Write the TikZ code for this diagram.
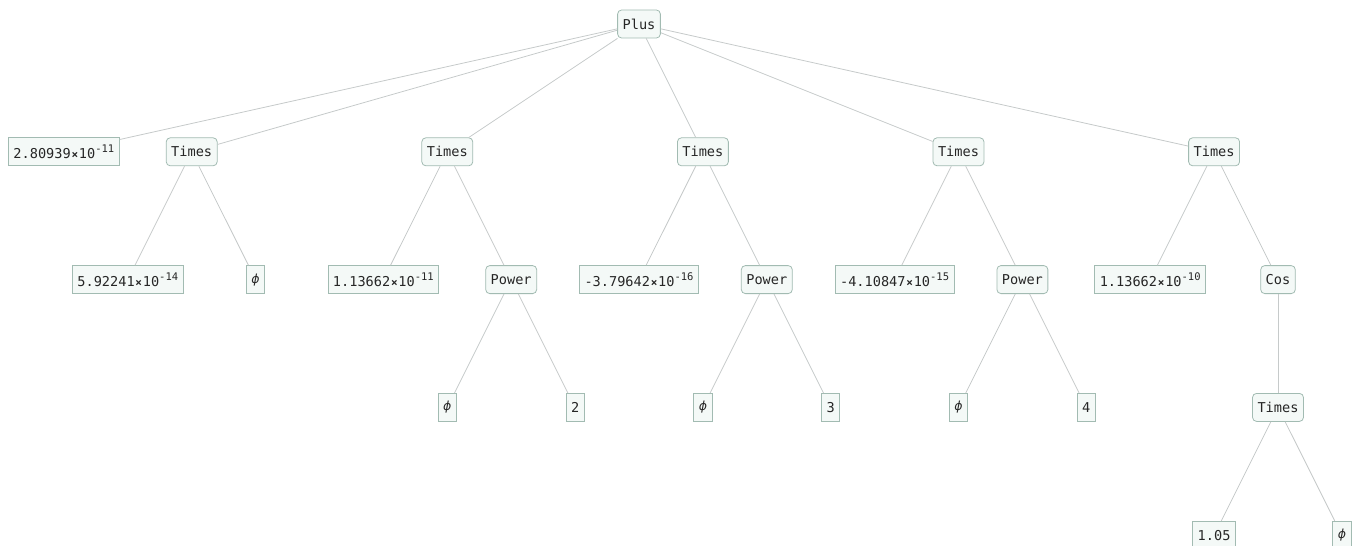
\documentclass[tikz,border=0pt]{standalone}
\usepackage{fontspec}
\setmonofont{DejaVu Sans Mono}
\newfontfamily\phifont{DejaVu Sans}
\definecolor{nodeborder}{HTML}{A2BBB2}
\definecolor{nodefill}{HTML}{F4F9F7}
\definecolor{edgecol}{HTML}{C6CACA}
\definecolor{textcol}{HTML}{262626}
\tikzset{
  base/.style={draw=nodeborder, fill=nodefill, line width=0.8pt, text=textcol,
    font=\ttfamily\fontsize{13.6}{15}\selectfont, minimum height=28pt,
    inner xsep=5pt, inner ysep=0pt},
  op/.style={base, rounded corners=4pt},
  leaf/.style={base},
  edge/.style={draw=edgecol, line width=0.8pt}
}
% scientific notation: mantissa x 10^exponent
\newcommand{\sci}[2]{#1\makebox[0.6em]{\fontsize{11}{12}\selectfont\textbf{\texttimes}}10\raisebox{0.48em}{\fontsize{10.5}{11}\selectfont#2}}
\newcommand{\phisym}{{\phifont\itshape\fontsize{12.5}{14}\selectfont ϕ}}
\begin{document}
\begin{tikzpicture}[x=63.9pt, y=-127.8pt]
  % canvas: 1353 x 546, root centre 24 below the top edge
  \useasboundingbox (0pt,24pt) rectangle (1353pt,-522pt);
  % level 0
  \node[op] (plus) at (10,0) {Plus};
  % level 1
  \node[leaf] (c0) at (1,1) {\sci{2.80939}{-11}};
  \node[op] (t1) at (3,1) {Times};
  \node[op] (t2) at (7,1) {Times};
  \node[op] (t3) at (11,1) {Times};
  \node[op] (t4) at (15,1) {Times};
  \node[op] (t5) at (19,1) {Times};
  % level 2
  \node[leaf] (c1) at (2,2) {\sci{5.92241}{-14}};
  \node[leaf] (f1) at (4,2) {\phisym};
  \node[leaf] (c2) at (6,2) {\sci{1.13662}{-11}};
  \node[op] (p2) at (8,2) {Power};
  \node[leaf] (c3) at (10,2) {\sci{-3.79642}{-16}};
  \node[op] (p3) at (12,2) {Power};
  \node[leaf] (c4) at (14,2) {\sci{-4.10847}{-15}};
  \node[op] (p4) at (16,2) {Power};
  \node[leaf] (c5) at (18,2) {\sci{1.13662}{-10}};
  \node[op] (cos) at (20,2) {Cos};
  % level 3
  \node[leaf] (f2) at (7,3) {\phisym};
  \node[leaf] (e2) at (9,3) {2};
  \node[leaf] (f3) at (11,3) {\phisym};
  \node[leaf] (e3) at (13,3) {3};
  \node[leaf] (f4) at (15,3) {\phisym};
  \node[leaf] (e4) at (17,3) {4};
  \node[op] (t6) at (20,3) {Times};
  % level 4
  \node[leaf] (k6) at (19,4) {1.05};
  \node[leaf] (f6) at (21,4) {\phisym};
  % connectors
  \foreach \a/\b in {plus/c0, plus/t1, plus/t2, plus/t3, plus/t4, plus/t5,
      t1/c1, t1/f1, t2/c2, t2/p2, t3/c3, t3/p3, t4/c4, t4/p4, t5/c5, t5/cos,
      p2/f2, p2/e2, p3/f3, p3/e3, p4/f4, p4/e4, cos/t6, t6/k6, t6/f6}
    \draw[edge] (\a) -- (\b);
\end{tikzpicture}
\end{document}
